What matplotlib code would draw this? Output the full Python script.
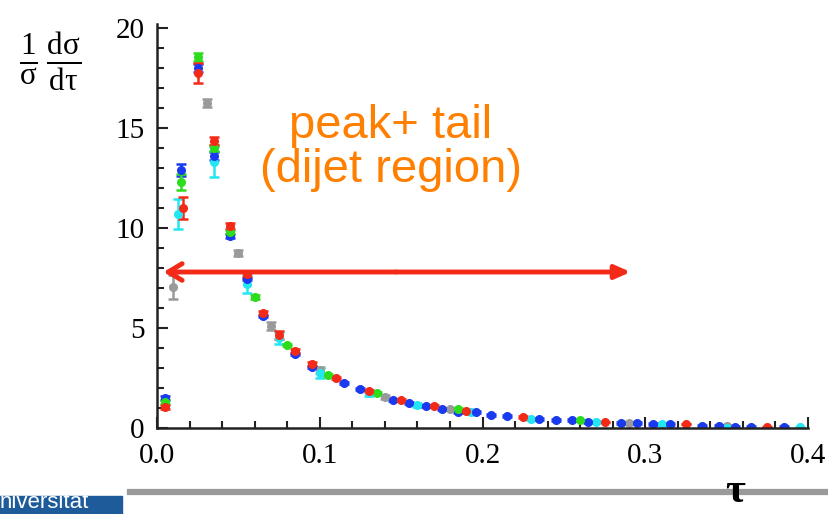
import matplotlib.pyplot as plt
from matplotlib.lines import Line2D
from matplotlib.patches import Rectangle
from matplotlib.ticker import MultipleLocator

# data: (tau, value, error) per colour
red_tau = [0.005, 0.016, 0.025, 0.035, 0.045, 0.055, 0.065, 0.075, 0.085, 0.095,
           0.11, 0.13, 0.15, 0.17, 0.19, 0.225, 0.275, 0.325, 0.375]
red_val = [1.05, 11.0, 17.75, 14.35, 10.1, 7.7, 5.75, 4.65, 3.85, 3.2,
           2.5, 1.85, 1.4, 1.1, 0.85, 0.55, 0.3, 0.2, 0.05]
red_err = [0.1, 0.55, 0.5, 0.2, 0.15, 0.15, 0.1, 0.2, 0.1, 0.08,
           0.05, 0.05, 0.04, 0.03, 0.03, 0.03, 0.02, 0.02, 0.02]

green_tau = [0.005, 0.015, 0.025, 0.035, 0.045, 0.06, 0.08, 0.105, 0.135, 0.185, 0.26]
green_val = [1.3, 12.3, 18.55, 14.0, 9.8, 6.55, 4.15, 2.65, 1.75, 0.95, 0.4]
green_err = [0.1, 0.4, 0.2, 0.15, 0.1, 0.08, 0.06, 0.05, 0.04, 0.03, 0.02]

blue_tau = [0.005, 0.015, 0.025, 0.035, 0.045, 0.055, 0.065, 0.085, 0.095, 0.115,
            0.125, 0.145, 0.155, 0.165, 0.175, 0.185, 0.196, 0.205, 0.215, 0.235,
            0.245, 0.255, 0.265, 0.285, 0.295, 0.305, 0.315, 0.335, 0.345, 0.355,
            0.365, 0.385]
blue_val = [1.5, 12.9, 18.0, 13.6, 9.6, 7.45, 5.6, 3.7, 3.05, 2.25,
            1.95, 1.4, 1.25, 1.1, 0.95, 0.8, 0.8, 0.65, 0.6, 0.45,
            0.4, 0.4, 0.3, 0.25, 0.25, 0.2, 0.2, 0.1, 0.1, 0.05,
            0.05, 0.05]
blue_err = [0.1, 0.3, 0.2, 0.2, 0.1] + [0.05] * 27

cyan_tau = [0.013, 0.035, 0.055, 0.075, 0.1, 0.13, 0.16, 0.193, 0.23, 0.27, 0.31, 0.35, 0.395]
cyan_val = [10.7, 13.3, 7.2, 4.5, 2.75, 1.75, 1.15, 0.8, 0.45, 0.3, 0.2, 0.0, 0.03]
cyan_err = [0.75, 0.75, 0.45, 0.3, 0.25, 0.15, 0.1, 0.1, 0.05, 0.04, 0.03, 0.03, 0.03]

gray_tau = [0.01, 0.031, 0.05, 0.07, 0.1, 0.14, 0.18, 0.29, 0.35]
gray_val = [7.05, 16.25, 8.75, 5.1, 2.9, 1.55, 0.95, 0.25, 0.1]
gray_err = [0.6, 0.2, 0.15, 0.2, 0.15, 0.08, 0.05, 0.03, 0.03]

series = [
    (gray_tau, gray_val, gray_err, '#9a9a9a'),
    (cyan_tau, cyan_val, cyan_err, '#22e6f2'),
    (blue_tau, blue_val, blue_err, '#1a3af0'),
    (green_tau, green_val, green_err, '#2edc1e'),
    (red_tau, red_val, red_err, '#f42a18'),
]

plt.rcParams['font.family'] = ['Liberation Serif', 'DejaVu Serif']
plt.rcParams['mathtext.fontset'] = 'custom'
plt.rcParams['mathtext.rm'] = 'Liberation Serif'
plt.rcParams['mathtext.it'] = 'Liberation Serif:italic'
plt.rcParams['mathtext.bf'] = 'Liberation Serif:bold'

fig = plt.figure(figsize=(8.29, 5.14), dpi=100)
ax = fig.add_axes([0.1894, 0.1673, 0.7853, 0.786])

for t, v, e, c in series:
    ax.errorbar(t, v, yerr=e, fmt='o', color=c, ms=5.5,
                elinewidth=1.8, capsize=3.5, capthick=1.8)

ax.set_xlim(0, 0.4)
ax.set_ylim(0, 20.2)
ax.xaxis.set_minor_locator(MultipleLocator(0.02))
ax.yaxis.set_major_locator(MultipleLocator(5))
ax.yaxis.set_minor_locator(MultipleLocator(1))
ax.set_xticks([0, 0.1, 0.2, 0.3, 0.4])
ax.set_xticklabels(['0.0', '0.1', '0.2', '0.3', '0.4'])
ax.tick_params(which='both', direction='in', width=1.5, labelsize=21, color='#222222')
ax.tick_params(which='major', length=8)
ax.tick_params(which='minor', length=5)
ax.tick_params(axis='y', pad=9)
ax.tick_params(axis='x', pad=11)
for s in ['top', 'right']:
    ax.spines[s].set_visible(False)
for s in ['left', 'bottom']:
    ax.spines[s].set_linewidth(1.8)
    ax.spines[s].set_color('#222222')

# y label
fig.text(0.06, 0.88, r'$\frac{1}{\mathrm{σ}}\,\frac{\mathrm{dσ}}{\mathrm{dτ}}$',
         fontsize=32, ha='center', va='center')

# annotation
ax.text(0.1436, 14.0, 'peak+ tail\n(dijet region)', color='#ff7f00', fontsize=34,
        family=['Liberation Sans', 'DejaVu Sans'], ha='center', va='center',
        linespacing=1.0)
mid = 0.147
ax.annotate('', xy=(0.004, 7.8), xytext=(mid, 7.8),
            arrowprops=dict(arrowstyle='->,head_length=1.0,head_width=0.6',
                            color='#f42a18', lw=3.5, shrinkA=0, shrinkB=0))
ax.annotate('', xy=(0.291, 7.8), xytext=(mid, 7.8),
            arrowprops=dict(arrowstyle='-|>,head_length=0.9,head_width=0.4',
                            color='#f42a18', lw=3.5, shrinkA=0, shrinkB=0))

# slide decorations
fig.add_artist(Line2D([130 / 829, 1.0], [1 - 492 / 514, 1 - 492 / 514],
                      color='#9a9a9a', lw=4.5))
fig.text(735 / 829, 12 / 514, 'τ', fontsize=31, fontweight='bold',
         ha='center', va='baseline')
fig.add_artist(Rectangle((0, 0), 122 / 829, 18 / 514, color='#1d5b9a',
                         transform=fig.transFigure))
fig.text(0.0, 0.002, 'niversität', color='white', fontsize=16,
         family=['Liberation Sans', 'DejaVu Sans'], ha='left', va='bottom')

fig.savefig('out.png', dpi=100)
